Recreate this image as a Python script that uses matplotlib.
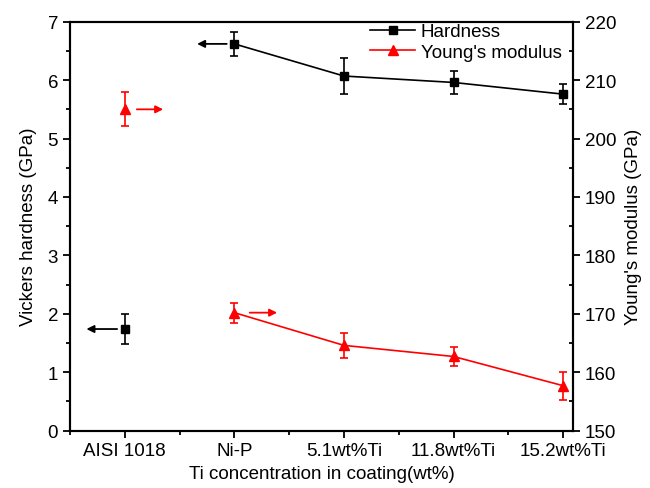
import matplotlib
matplotlib.use("Agg")
import matplotlib.pyplot as plt
from matplotlib.ticker import MultipleLocator

plt.rcParams["font.family"] = ["Liberation Sans", "DejaVu Sans"]
plt.rcParams["font.size"] = 13.5

# sample groups along the x axis
samples = ["AISI 1018", "Ni-P", "5.1wt%Ti", "11.8wt%Ti", "15.2wt%Ti"]

# Vickers hardness (GPa) and its error
hardness = [1.74, 6.62, 6.07, 5.96, 5.76]
hardness_err = [0.25, 0.20, 0.30, 0.19, 0.17]

# Young's modulus (GPa) and its error
modulus = [205.0, 170.2, 164.6, 162.7, 157.7]
modulus_err = [2.9, 1.7, 2.1, 1.6, 2.4]

RED = "#ff0000"
x = list(range(len(samples)))

fig = plt.figure(figsize=(6.5, 4.89), dpi=100)
ax = fig.add_axes([0.1077, 0.1172, 0.7738, 0.8364])
ax2 = ax.twinx()

# hardness: substrate point stands alone, coatings joined by a line
ax.errorbar(x, hardness, yerr=hardness_err, fmt="none", ecolor="black",
            elinewidth=1.2, capsize=3, capthick=1.2, zorder=3)
ax.plot(x[:1], hardness[:1], "s", color="black", ms=6, zorder=4)
h_line, = ax.plot(x[1:], hardness[1:], "-s", color="black", lw=1.2, ms=6,
                  zorder=4, label="Hardness")

# modulus on the right axis
ax2.errorbar(x, modulus, yerr=modulus_err, fmt="none", ecolor=RED,
             elinewidth=1.2, capsize=3, capthick=1.2, zorder=3)
ax2.plot(x[:1], modulus[:1], "^", color=RED, ms=7.5, zorder=4)
m_line, = ax2.plot(x[1:], modulus[1:], "-^", color=RED, lw=1.2, ms=7.5,
                   zorder=4, label="Young's modulus")

# arrows telling which axis a series belongs to
arrow_kw = dict(arrowstyle="-|>", lw=1.3, mutation_scale=11, shrinkA=0, shrinkB=0)
ax.annotate("", xy=(-0.35, hardness[0]), xytext=(-0.07, hardness[0]),
            arrowprops=dict(color="black", **arrow_kw))
ax.annotate("", xy=(0.66, hardness[1]), xytext=(0.93, hardness[1]),
            arrowprops=dict(color="black", **arrow_kw))
ax2.annotate("", xy=(0.35, modulus[0]), xytext=(0.11, modulus[0]),
             arrowprops=dict(color=RED, **arrow_kw))
ax2.annotate("", xy=(1.39, modulus[1]), xytext=(1.14, modulus[1]),
             arrowprops=dict(color=RED, **arrow_kw))

ax.set_xlim(-0.5, 4.09)
ax.set_ylim(0, 7)
ax2.set_ylim(150, 220)

ax.set_xticks(x)
ax.set_xticklabels(samples)
ax.xaxis.set_minor_locator(MultipleLocator(0.5))
ax.yaxis.set_major_locator(MultipleLocator(1))
ax.yaxis.set_minor_locator(MultipleLocator(0.5))
ax2.yaxis.set_major_locator(MultipleLocator(10))
ax2.yaxis.set_minor_locator(MultipleLocator(5))

for a in (ax, ax2):
    for s in a.spines.values():
        s.set_linewidth(1.5)
ax.tick_params(axis="both", which="major", direction="out", length=5, width=1.3,
               top=False, right=False)
ax.tick_params(axis="both", which="minor", direction="out", length=3, width=1.3,
               top=False, right=False)
ax2.tick_params(axis="y", which="major", direction="out", length=5, width=1.3)
ax2.tick_params(axis="y", which="minor", direction="in", length=3, width=1.3)

ax.set_xlabel("Ti concentration in coating(wt%)", labelpad=4)
ax.set_ylabel("Vickers hardness (GPa)", labelpad=8)
ax2.set_ylabel("Young's modulus (GPa)", labelpad=6)

fig.legend(handles=[h_line, m_line], loc="upper left",
           bbox_to_anchor=(370 / 650, (489 - 24) / 489), frameon=False,
           borderpad=0, borderaxespad=0, handlelength=2.4, handletextpad=0.3,
           labelspacing=0.2)

fig.savefig("out.png", dpi=100)
